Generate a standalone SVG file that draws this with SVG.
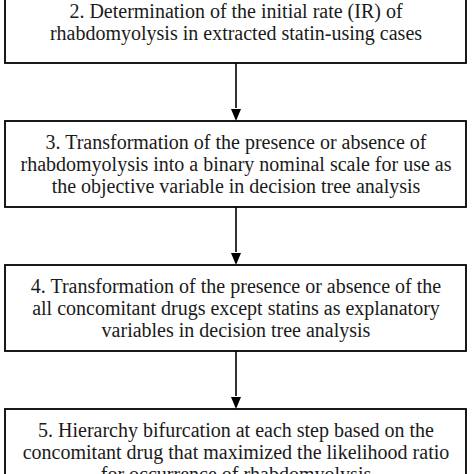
<svg xmlns="http://www.w3.org/2000/svg" width="474" height="474" viewBox="0 0 474 474">
<style>
.box{fill:#fff;stroke:#000;stroke-width:1.8}
.t{font-family:"Liberation Serif","Times New Roman",serif;font-size:20px;fill:#1a1a1a;text-anchor:middle}
.c{stroke:#000;stroke-width:1.6;fill:none}
</style>
<defs>
<marker id="ah" markerUnits="userSpaceOnUse" markerWidth="10" markerHeight="12" refX="5" refY="12" orient="auto-start-reverse" viewBox="0 0 10 12">
<path d="M0,0 L10,0 L5,12 Z" fill="#000" transform="rotate(0)"/>
</marker>
</defs>
<rect width="474" height="474" fill="#fff"/>
<g id="connectors">
<path class="c" d="M236,63 V108"/>
<path d="M231,109 L241,109 L236,121 Z" fill="#000"/>
<path class="c" d="M236,207 V252"/>
<path d="M231,253 L241,253 L236,265 Z" fill="#000"/>
<path class="c" d="M236,351 V396"/>
<path d="M231,397 L241,397 L236,409 Z" fill="#000"/>
</g>
<g id="node2">
<rect class="box" x="5" y="-2" width="461" height="65"/>
<text class="t" x="236" y="18">2. Determination of the initial rate (IR) of</text>
<text class="t" x="236" y="40">rhabdomyolysis in extracted statin-using cases</text>
</g>
<g id="node3">
<rect class="box" x="5" y="121" width="461" height="86"/>
<text class="t" x="236" y="149">3. Transformation of the presence or absence of</text>
<text class="t" x="236" y="171">rhabdomyolysis into a binary nominal scale for use as</text>
<text class="t" x="236" y="193">the objective variable in decision tree analysis</text>
</g>
<g id="node4">
<rect class="box" x="5" y="265" width="461" height="86"/>
<text class="t" x="236" y="293">4. Transformation of the presence or absence of the</text>
<text class="t" x="236" y="315">all concomitant drugs except statins as explanatory</text>
<text class="t" x="236" y="337">variables in decision tree analysis</text>
</g>
<g id="node5">
<rect class="box" x="5" y="409" width="461" height="86"/>
<text class="t" x="236" y="437">5. Hierarchy bifurcation at each step based on the</text>
<text class="t" x="236" y="459">concomitant drug that maximized the likelihood ratio</text>
<text class="t" x="236" y="481">for occurrence of rhabdomyolysis</text>
</g>
</svg>
